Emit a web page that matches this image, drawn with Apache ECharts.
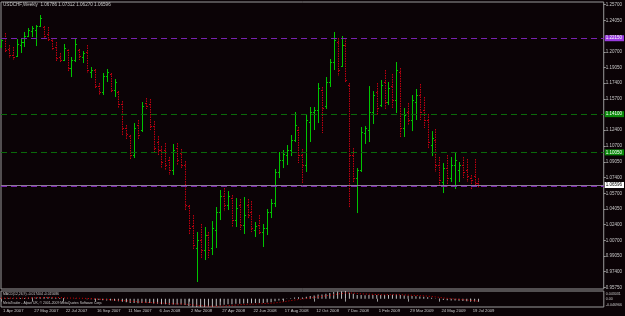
<!DOCTYPE html>
<html>
<head>
<meta charset="utf-8">
<script src="https://cdn.jsdelivr.net/npm/echarts@6/dist/echarts.min.js"></script>
<style>
html,body{margin:0;padding:0;background:#0b0306;}
#main{width:625px;height:316px;}
</style>
</head>
<body>
<div id="main"></div>
<script>
// weekly USDCHF bars, first bar = week of 1 Apr 2007
var openP = [1.2132,1.2217,1.2101,1.2037,1.2026,1.2143,1.2175,1.2238,1.2291,1.2302,
1.2344,1.2334,1.2260,1.2196,1.2122,1.2016,1.1984,1.2090,1.1899,1.1984,
1.2090,1.2016,1.2069,1.1857,1.1878,1.1708,1.1645,1.1814,1.1836,1.1666,
1.1645,1.1518,1.1263,1.1178,1.0977,1.1295,1.1242,1.1528,1.1518,1.1284,
1.1115,1.1030,1.1030,1.0924,1.0818,1.1051,1.0998,1.0871,1.0436,1.0224,
0.9991,1.0076,0.9970,1.0129,0.9991,1.0182,1.0373,1.0542,1.0447,1.0521,
1.0288,1.0447,1.0235,1.0447,1.0373,1.0182,1.0235,1.0161,1.0203,1.0373,
1.0468,1.0797,1.0924,1.0977,1.1030,1.1136,1.1242,1.0977,1.0871,1.1327,
1.1433,1.1454,1.1666,1.1496,1.1751,1.1963,1.2175,1.1920,1.2143,1.1719,
1.0977,1.0733,1.0818,1.1210,1.1242,1.1433,1.1645,1.1507,1.1751,1.1539,
1.1708,1.1560,1.1857,1.1263,1.1433,1.1348,1.1539,1.1613,1.1454,1.1348,
1.1083,1.1136,1.0871,1.0691,1.0839,1.0733,1.0871,1.0818,1.0871,1.0818,
1.0733,1.0754,1.06786];
var highP = [1.2217,1.2270,1.2143,1.2122,1.2207,1.2217,1.2281,1.2323,1.2344,1.2355,
1.2461,1.2344,1.2334,1.2217,1.2175,1.2058,1.2154,1.2095,1.2016,1.2207,
1.2101,1.2079,1.2143,1.1910,1.1889,1.1740,1.1846,1.1889,1.1846,1.1783,
1.1655,1.1549,1.1295,1.1189,1.1316,1.1348,1.1539,1.1581,1.1571,1.1337,
1.1178,1.1072,1.1104,1.0956,1.1094,1.1104,1.1041,1.0913,1.0447,1.0341,
1.0161,1.0246,1.0214,1.0161,1.0277,1.0426,1.0606,1.0627,1.0595,1.0553,
1.0521,1.0511,1.0532,1.0511,1.0489,1.0267,1.0341,1.0246,1.0405,1.0511,
1.0829,1.1009,1.1030,1.1083,1.1189,1.1433,1.1274,1.1041,1.1401,1.1486,
1.1486,1.1740,1.1698,1.1804,1.1995,1.2281,1.2217,1.2238,1.2217,1.1740,
1.1051,1.0839,1.1274,1.1284,1.1708,1.1655,1.1740,1.1772,1.1878,1.1751,
1.1836,1.1963,1.1899,1.1475,1.1528,1.1613,1.1677,1.1730,1.1592,1.1412,
1.1231,1.1253,1.0956,1.0892,1.0977,1.0956,1.1009,1.0903,1.0956,1.0935,
1.0765,1.0935,1.07312];
var lowP = [1.2111,1.2058,1.2005,1.1984,1.2016,1.2058,1.2122,1.2228,1.2228,1.2132,
1.2334,1.2207,1.2185,1.2090,1.1973,1.1952,1.1973,1.1857,1.1804,1.1963,
1.1984,1.1952,1.1846,1.1793,1.1677,1.1613,1.1613,1.1751,1.1634,1.1592,
1.1475,1.1178,1.1147,1.0924,1.0945,1.1136,1.1221,1.1465,1.1242,1.0998,
1.0977,1.0839,1.0818,1.0765,1.0765,1.0871,1.0829,1.0394,1.0129,0.9970,
0.9631,0.9885,0.9864,0.9885,0.9917,0.9991,1.0288,1.0383,1.0394,1.0214,
1.0214,1.0182,1.0140,1.0299,1.0161,1.0108,1.0129,1.0002,1.0129,1.0309,
1.0426,1.0733,1.0839,1.0871,1.0966,1.1115,1.0892,1.0680,1.0797,1.1115,
1.1242,1.1316,1.1210,1.1465,1.1698,1.1878,1.1814,1.1910,1.1740,1.0415,
1.0680,1.0362,1.0797,1.1094,1.1115,1.1306,1.1401,1.1486,1.1454,1.1507,
1.1475,1.1422,1.1157,1.1168,1.1295,1.1231,1.1348,1.1348,1.1263,1.1041,
1.0966,1.0797,1.0638,1.0574,1.0638,1.0691,1.0617,1.0691,1.0733,1.0691,
1.0606,1.0638,1.06270];
var closeP = [1.2196,1.2090,1.2037,1.2016,1.2154,1.2175,1.2238,1.2302,1.2323,1.2344,
1.2429,1.2238,1.2207,1.2111,1.2005,1.1984,1.2111,1.1899,1.1984,1.2154,
1.2026,1.2058,1.1878,1.1878,1.1708,1.1645,1.1814,1.1857,1.1666,1.1751,
1.1518,1.1263,1.1200,1.0977,1.1263,1.1189,1.1496,1.1496,1.1284,1.1051,
1.1030,1.0903,1.0871,1.0818,1.1030,1.0924,1.0871,1.0447,1.0203,1.0023,
1.0076,0.9970,1.0129,0.9970,1.0203,1.0373,1.0542,1.0447,1.0542,1.0288,
1.0415,1.0235,1.0341,1.0341,1.0203,1.0224,1.0161,1.0203,1.0373,1.0468,
1.0797,1.0924,1.0988,1.1030,1.1136,1.1295,1.0977,1.0871,1.1348,1.1433,
1.1454,1.1687,1.1475,1.1751,1.1963,1.2196,1.1878,1.2143,1.1772,1.0977,
1.0733,1.0818,1.1221,1.1263,1.1433,1.1613,1.1475,1.1719,1.1539,1.1687,
1.1560,1.1878,1.1263,1.1401,1.1348,1.1560,1.1613,1.1433,1.1348,1.1115,
1.1157,1.0871,1.0712,1.0839,1.0733,1.0871,1.0924,1.0871,1.0797,1.0754,
1.0712,1.0680,1.06596];

// MACD(12,26,9) main and signal
var macdMain = [0.004,0.004,0.003,0.002,0.003,0.003,0.004,0.005,0.006,0.007,
0.009,0.009,0.008,0.007,0.005,0.003,0.003,0.001,0.000,0.001,
0.000,-0.001,-0.003,-0.004,-0.006,-0.008,-0.009,-0.010,-0.011,-0.012,
-0.014,-0.017,-0.020,-0.024,-0.025,-0.026,-0.025,-0.024,-0.025,-0.027,
-0.029,-0.031,-0.032,-0.034,-0.033,-0.033,-0.033,-0.036,-0.041,-0.045,
-0.047,-0.047,-0.047,-0.046,-0.045,-0.042,-0.038,-0.035,-0.032,-0.031,
-0.029,-0.028,-0.027,-0.026,-0.026,-0.025,-0.025,-0.024,-0.022,-0.020,
-0.015,-0.010,-0.006,-0.002,0.002,0.007,0.008,0.007,0.011,0.015,
0.018,0.023,0.023,0.027,0.032,0.038,0.040,0.042,0.043,0.033,
0.027,0.021,0.020,0.019,0.020,0.020,0.020,0.021,0.021,0.021,
0.022,0.023,0.020,0.018,0.016,0.015,0.014,0.012,0.011,0.008,
0.005,0.001,-0.004,-0.007,-0.009,-0.010,-0.011,-0.012,-0.013,-0.014,
-0.015,-0.016,-0.017404];
var macdSignal = [0.003,0.003,0.003,0.003,0.003,0.003,0.003,0.004,0.004,0.005,
0.006,0.006,0.007,0.007,0.006,0.006,0.005,0.004,0.003,0.003,
0.002,0.002,0.001,0.000,-0.001,-0.003,-0.004,-0.005,-0.006,-0.008,
-0.009,-0.011,-0.012,-0.014,-0.016,-0.018,-0.020,-0.021,-0.022,-0.023,
-0.024,-0.025,-0.026,-0.028,-0.029,-0.030,-0.030,-0.031,-0.033,-0.035,
-0.037,-0.039,-0.041,-0.042,-0.043,-0.043,-0.042,-0.041,-0.039,-0.038,
-0.036,-0.034,-0.033,-0.032,-0.031,-0.030,-0.029,-0.028,-0.027,-0.026,
-0.024,-0.021,-0.018,-0.015,-0.011,-0.008,-0.005,-0.002,0.001,0.004,
0.007,0.010,0.013,0.016,0.019,0.022,0.026,0.029,0.032,0.032,
0.031,0.029,0.027,0.026,0.025,0.024,0.023,0.022,0.022,0.022,
0.022,0.022,0.022,0.021,0.020,0.019,0.018,0.017,0.016,0.014,
0.012,0.010,0.007,0.004,0.002,0.000,-0.002,-0.004,-0.006,-0.008,
-0.010,-0.012,-0.015686];

var dateLabels = ['1 Apr 2007','27 May 2007','22 Jul 2007','16 Sep 2007','11 Nov 2007',
'6 Jan 2008','2 Mar 2008','27 Apr 2008','22 Jun 2008','17 Aug 2008','12 Oct 2008',
'7 Dec 2008','1 Feb 2009','29 Mar 2009','24 May 2009','19 Jul 2009'];
var priceTicks = [1.2570,1.2405,1.2070,1.1905,1.1740,1.1570,1.1240,1.1070,1.0905,
1.0740,1.0570,1.0405,1.0240,1.0070,0.9905,0.9740,0.9575];
var macdTicks = [0.043031, 0, -0.046966];
var lineLevels = [1.2215, 1.1410, 1.1005, 1.0650];
var bidPrice = 1.06596;

var myChart = echarts.init(document.getElementById('main'));

var upColor = '#00c400';
var downColor = '#c00010';
var txtColor = '#c8c8c8';
var frameColor = '#9a9a9a';
var fontFam = 'Liberation Sans, Arial, sans-serif';

// category slots: the bars plus empty weeks on the right (chart shift)
var N = 155;
var cats = [];
for (var i = 0; i < N; i++) {
	cats.push(i % 8 === 0 && dateLabels[i / 8] ? dateLabels[i / 8] : '');
}
var bars = [];
for (var i = 0; i < openP.length; i++) {
	bars.push([i, openP[i], closeP[i], lowP[i], highP[i]]);
}

function drawBar(params, api) {
	var i = api.value(0);
	var o = api.coord([i, api.value(1)]);
	var c = api.coord([i, api.value(2)]);
	var l = api.coord([i, api.value(3)]);
	var h = api.coord([i, api.value(4)]);
	var up = api.value(2) >= api.value(1);
	var x = Math.round(h[0]) + 0.5;
	var st = {stroke: up ? upColor : downColor, lineWidth: 1, lineDash: up ? null : [1.5, 1]};
	var oy = Math.round(o[1]) + 0.5, cy = Math.round(c[1]) + 0.5;
	return {
		type: 'group',
		children: [
			{type: 'line', shape: {x1: x, y1: h[1], x2: x, y2: l[1]}, style: st},
			{type: 'line', shape: {x1: x - 1.5, y1: oy, x2: x, y2: oy}, style: {stroke: st.stroke, lineWidth: 1}},
			{type: 'line', shape: {x1: x, y1: cy, x2: x + 1.5, y2: cy}, style: {stroke: st.stroke, lineWidth: 1}}
		]
	};
}

function levelLine(v, color, bg, fg, type, showLabel) {
	return {
		yAxis: v,
		lineStyle: {color: color, type: type, width: 1},
		label: {
			show: showLabel, position: 'end', distance: 1,
			formatter: v.toFixed(5), color: fg, backgroundColor: bg,
			fontSize: 4.5, fontFamily: fontFam, padding: [1, 2, 0, 1]
		}
	};
}

function tickShown(idx, val) { return val !== ''; }

option = {
	backgroundColor: '#0b0306',
	animation: false,
	title: [
		{text: 'USDCHF,Weekly  1.06786 1.07312 1.06270 1.06596', left: 3, top: 2, padding: 0,
			textStyle: {color: txtColor, fontSize: 4.6, fontWeight: 'normal', fontFamily: fontFam}},
		{text: 'MACD(12,26,9) -0.017404 -0.015686', left: 3, top: 293, padding: 0,
			textStyle: {color: txtColor, fontSize: 3.4, fontWeight: 'normal', fontFamily: fontFam}},
		{text: 'MetaTrader - Alpari UK, \u00a9 2001-2009 MetaQuotes Software Corp.', left: 3, top: 302, padding: 0,
			textStyle: {color: txtColor, fontSize: 3.4, fontWeight: 'normal', fontFamily: fontFam}}
	],
	grid: [
		{left: 1, right: 19, top: 2, height: 287, show: true, borderColor: frameColor, borderWidth: 1, backgroundColor: 'transparent'},
		{left: 1, right: 19, top: 291, height: 16, show: true, borderColor: frameColor, borderWidth: 1, backgroundColor: 'transparent'}
	],
	xAxis: [
		{type: 'category', gridIndex: 0, data: cats, boundaryGap: false,
			axisLine: {show: false}, axisTick: {show: false}, axisLabel: {show: false}, splitLine: {show: false}},
		{type: 'category', gridIndex: 1, data: cats, boundaryGap: false,
			axisLine: {show: false},
			axisTick: {show: true, length: 3, interval: tickShown, lineStyle: {color: frameColor}},
			axisLabel: {show: true, interval: tickShown, align: 'left', margin: 2, padding: [0, 0, 0, 2],
				color: txtColor, fontSize: 4.2, fontFamily: fontFam},
			splitLine: {show: false}}
	],
	yAxis: [
		{type: 'value', gridIndex: 0, position: 'right', min: 0.9557, max: 1.2599, scale: true,
			axisLine: {show: false},
			axisTick: {show: true, length: 2, customValues: priceTicks, lineStyle: {color: frameColor}},
			axisLabel: {show: true, customValues: priceTicks, margin: 2, color: txtColor, fontSize: 4.5, fontFamily: fontFam,
				formatter: function (v) { return v.toFixed(5); }},
			splitLine: {show: false}},
		{type: 'value', gridIndex: 1, position: 'right', min: -0.046966, max: 0.043031,
			axisLine: {show: false}, axisTick: {show: false},
			axisLabel: {show: true, customValues: macdTicks, margin: 2, color: txtColor, fontSize: 3.6, fontFamily: fontFam,
				formatter: function (v) {
					if (v > 0) return '{t|' + v.toFixed(6) + '}';
					if (v < 0) return '{b|' + v.toFixed(6) + '}';
					return '0.00';
				},
				rich: {t: {padding: [5, 0, 0, 0], fontSize: 3.6, color: txtColor}, b: {padding: [0, 0, 5, 0], fontSize: 3.6, color: txtColor}}},
			splitLine: {show: false}}
	],
	series: [
		{
			type: 'custom', name: 'USDCHF', xAxisIndex: 0, yAxisIndex: 0,
			renderItem: drawBar, data: bars, encode: {x: 0, y: [1, 2, 3, 4]},
			markLine: {
				silent: true, symbol: 'none', animation: false, precision: 5,
				data: [
					levelLine(lineLevels[0], '#7a22b0', '#9a3be0', '#ffffff', [6, 4], true),
					levelLine(lineLevels[1], '#0a6a0a', '#0a8a0a', '#ffffff', [6, 4], true),
					levelLine(lineLevels[2], '#0a6a0a', '#0a8a0a', '#ffffff', [6, 4], true),
					levelLine(bidPrice, '#8c7a98', '#ffffff', '#000000', 'solid', true),
					levelLine(lineLevels[3], '#7a22b0', '#9a3be0', '#ffffff', [6, 4], false)
				]
			}
		},
		{
			type: 'bar', name: 'MACD', xAxisIndex: 1, yAxisIndex: 1,
			data: macdMain, barWidth: 1, itemStyle: {color: '#bdbdbd'}
		},
		{
			type: 'line', name: 'Signal', xAxisIndex: 1, yAxisIndex: 1,
			data: macdSignal, symbol: 'none', lineStyle: {color: '#d00000', width: 1, type: [1, 2]}
		}
	]
};
myChart.setOption(option, true);
</script>
</body>
</html>
